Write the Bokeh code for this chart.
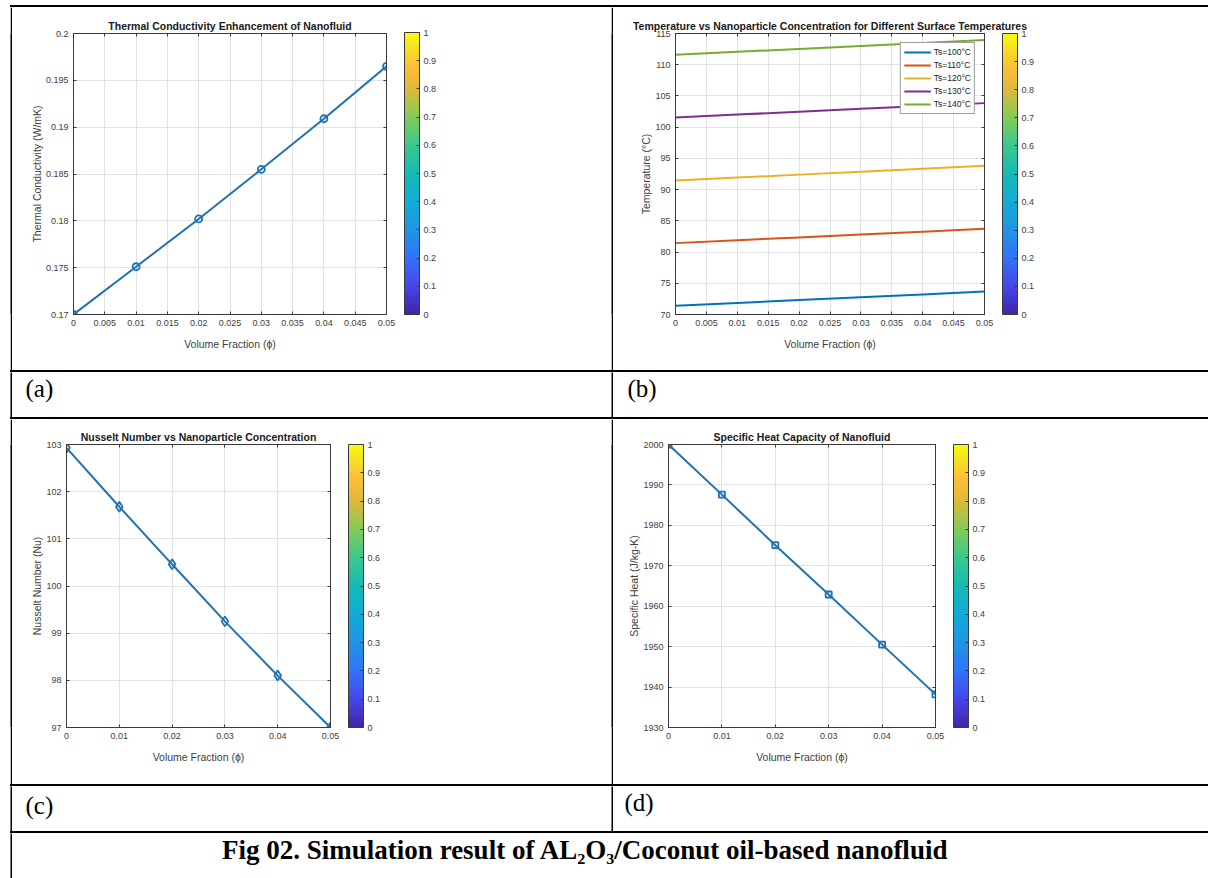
import numpy as np
from bokeh.plotting import figure
from bokeh.layouts import row, column
from bokeh.models import (Range1d, FixedTicker, CustomJSTickFormatter, LinearAxis,
                          ColorBar, LinearColorMapper, Label, Spacer)
from bokeh.embed import file_html
from bokeh.resources import INLINE
from bokeh.core.validation import silence
from bokeh.core.validation.warnings import MISSING_RENDERERS

silence(MISSING_RENDERERS, True)

# ---------------- data ----------------
phi = [0.00, 0.01, 0.02, 0.03, 0.04, 0.05]
k_nf = [0.1700, 0.1751, 0.1802, 0.1855, 0.1909, 0.1965]

ts_labels = ["Ts=100°C", "Ts=110°C", "Ts=120°C", "Ts=130°C", "Ts=140°C"]
T_100 = [71.39, 71.85, 72.31, 72.76, 73.22, 73.68]
T_110 = [81.43, 81.89, 82.35, 82.80, 83.26, 83.72]
T_120 = [91.46, 91.93, 92.40, 92.87, 93.34, 93.81]
T_130 = [101.55, 102.01, 102.47, 102.93, 103.39, 103.85]
T_140 = [111.59, 112.06, 112.53, 113.00, 113.47, 113.94]

Nu = [102.93, 101.68, 100.46, 99.25, 98.10, 97.00]
Cp = [2000.0, 1987.6, 1975.1, 1962.9, 1950.5, 1938.2]

x_ticks_fine = [0, 0.005, 0.01, 0.015, 0.02, 0.025, 0.03, 0.035, 0.04, 0.045, 0.05]
x_ticks_coarse = [0, 0.01, 0.02, 0.03, 0.04, 0.05]
k_ticks = [0.17, 0.175, 0.18, 0.185, 0.19, 0.195, 0.2]
T_ticks = [70, 75, 80, 85, 90, 95, 100, 105, 110, 115]
Nu_ticks = [97, 98, 99, 100, 101, 102, 103]
Cp_ticks = [1930, 1940, 1950, 1960, 1970, 1980, 1990, 2000]
cb_ticks = [0, 0.1, 0.2, 0.3, 0.4, 0.5, 0.6, 0.7, 0.8, 0.9, 1.0]

titles = ["Thermal Conductivity Enhancement of Nanofluid",
          "Temperature vs Nanoparticle Concentration for Different Surface Temperatures",
          "Nusselt Number vs Nanoparticle Concentration",
          "Specific Heat Capacity of Nanofluid"]
xlabel = "Volume Fraction (ϕ)"
ylabels = ["Thermal Conductivity (W/mK)", "Temperature (°C)",
           "Nusselt Number (Nu)", "Specific Heat (J/kg-K)"]
panel_labels = ["(a)", "(b)", "(c)", "(d)"]
caption = "Fig 02. Simulation result of AL₂O₃/Coconut oil-based nanofluid"

# ---------------- styles ----------------
BLUE = "#1f72b5"
LINE_COLORS = ["#0072BD", "#D95319", "#EDB120", "#7E2F8E", "#77AC30"]
AX = "#3a3a3a"
TXT = "#404040"
FONT = "Liberation Sans"
SERIF = "Liberation Serif"

parula_anchors = [(0.00, (62, 38, 168)), (0.10, (70, 70, 235)), (0.20, (50, 115, 250)),
                  (0.30, (32, 149, 229)), (0.40, (18, 172, 214)), (0.50, (20, 186, 180)),
                  (0.60, (59, 200, 141)), (0.70, (129, 204, 89)), (0.80, (222, 185, 60)),
                  (0.88, (252, 190, 55)), (0.95, (245, 225, 35)), (1.00, (249, 251, 14))]


def build_palette(anchors, n=256):
    pos = np.array([a[0] for a in anchors])
    cols = np.array([a[1] for a in anchors], float)
    t = np.linspace(0, 1, n)
    out = []
    for ti in t:
        r, g, b = (int(round(np.interp(ti, pos, cols[:, i]))) for i in range(3))
        out.append("#%02x%02x%02x" % (r, g, b))
    return out


PARULA = build_palette(parula_anchors)
FMT = CustomJSTickFormatter(code="return String(parseFloat(tick.toFixed(6)));")
BLANK = CustomJSTickFormatter(code="return '';")


def style_axis(ax, tk, label=None, show=True, label_standoff=0):
    ax.ticker = tk
    ax.formatter = FMT if show else BLANK
    ax.major_tick_in = 3
    ax.major_tick_out = 0
    ax.minor_tick_line_color = None
    ax.axis_line_color = AX
    ax.major_tick_line_color = AX
    ax.major_label_text_font = FONT
    ax.major_label_text_color = TXT
    if show:
        ax.major_label_text_font_size = "9px"
        ax.major_label_standoff = 5
    else:
        ax.major_label_text_font_size = "0px"
        ax.major_label_standoff = 0
    if label:
        ax.axis_label = label
        ax.axis_label_text_font = FONT
        ax.axis_label_text_font_size = "10.5px"
        ax.axis_label_text_font_style = "normal"
        ax.axis_label_text_color = TXT
        ax.axis_label_standoff = label_standoff


def chart(w, h, left, top, fw, fh, xr, yr, xt, yt, title, ylabel):
    p = figure(width=w, height=h, x_range=Range1d(*xr), y_range=Range1d(*yr),
               toolbar_location=None, output_backend="svg",
               min_border_left=left, min_border_right=w - left - fw,
               min_border_top=top, min_border_bottom=h - top - fh)
    p.outline_line_color = AX
    p.outline_line_width = 1
    xtk = FixedTicker(ticks=xt)
    ytk = FixedTicker(ticks=yt)
    style_axis(p.xaxis[0], xtk, xlabel, label_standoff=9)
    style_axis(p.yaxis[0], ytk, ylabel, label_standoff=0)
    p.xgrid.ticker = xtk
    p.ygrid.ticker = ytk
    p.grid.grid_line_color = "#e2e2e2"
    p.grid.grid_line_width = 1
    ta = LinearAxis()
    style_axis(ta, xtk, show=False)
    p.add_layout(ta, "above")
    ra = LinearAxis()
    style_axis(ra, ytk, show=False)
    p.add_layout(ra, "right")
    p.title.text = title
    p.title.align = "center"
    p.title.text_font = FONT
    p.title.text_font_size = "10.5px"
    p.title.text_font_style = "bold"
    p.title.text_color = "#1a1a1a"
    p.title.standoff = 3
    mapper = LinearColorMapper(palette=PARULA, low=0, high=1)
    cb = ColorBar(color_mapper=mapper, ticker=FixedTicker(ticks=cb_ticks), formatter=FMT,
                  width=15, height=fh, location=(fw + 18, 0), orientation="vertical",
                  padding=0, margin=0, bar_line_color=AX, bar_line_width=1,
                  major_tick_line_color=AX, major_tick_in=3, major_tick_out=0,
                  minor_tick_line_color=None,
                  major_label_text_font=FONT, major_label_text_font_size="9px",
                  major_label_text_color=TXT, label_standoff=4,
                  background_fill_alpha=0, border_line_color=None)
    p.add_layout(cb)
    return p


def vblock(w, h):
    p = figure(width=w, height=h, toolbar_location=None, output_backend="svg", title=None,
               min_border=0, x_axis_type=None, y_axis_type=None)
    p.background_fill_color = "black"
    p.border_fill_color = "black"
    p.outline_line_color = None
    return p


def hblock(w, h):
    return Spacer(width=w, height=h, styles={"background-color": "black"})


def text_cell(w, h, txt, x, y, size, bold=False, align="left", baseline="middle"):
    p = figure(width=w, height=h, x_range=Range1d(0, w), y_range=Range1d(h, 0),
               toolbar_location=None, output_backend="svg", title=None,
               min_border=0, x_axis_type=None, y_axis_type=None)
    p.outline_line_color = None
    p.add_layout(Label(x=x, y=y, text=txt, text_font=SERIF, text_font_size=size,
                       text_font_style="bold" if bold else "normal",
                       text_color="black", text_align=align, text_baseline=baseline))
    return p


# ---------------- panels ----------------
pa = chart(599, 363, 61, 25, 313, 282, (0, 0.05), (0.17, 0.2),
           x_ticks_fine, k_ticks, titles[0], ylabels[0])
pa.line(phi, k_nf, line_color=BLUE, line_width=2)
pa.scatter(phi, k_nf, marker="circle", size=7, line_color=BLUE, fill_color=None, line_width=1.8)

pb = chart(595, 363, 62, 26, 309, 281, (0, 0.05), (70, 115),
           x_ticks_fine, T_ticks, titles[1], ylabels[1])
for series, lab, col in zip([T_100, T_110, T_120, T_130, T_140], ts_labels, LINE_COLORS):
    pb.line(phi, series, line_color=col, line_width=2, legend_label=lab)
lg = pb.legend[0]
lg.location = "top_right"
lg.margin = 9
lg.padding = 3
lg.spacing = 1
lg.glyph_width = 27
lg.glyph_height = 12
lg.label_height = 12
lg.label_standoff = 3
lg.label_text_font = FONT
lg.label_text_font_size = "8.5px"
lg.label_text_color = "#222222"
lg.border_line_color = AX
lg.border_line_width = 1
lg.background_fill_alpha = 1

pc = chart(599, 365, 54, 25, 264, 283, (0, 0.05), (97, 103),
           x_ticks_coarse, Nu_ticks, titles[2], ylabels[2])
pc.line(phi, Nu, line_color=BLUE, line_width=2)
pc.scatter(phi, Nu, marker="diamond", size=10, line_color=BLUE, fill_color=None, line_width=1.8)

pd_ = chart(595, 365, 55, 25, 267, 283, (0, 0.05), (1930, 2000),
            x_ticks_coarse, Cp_ticks, titles[3], ylabels[3])
pd_.line(phi, Cp, line_color=BLUE, line_width=2)
pd_.scatter(phi, Cp, marker="square", size=6, line_color=BLUE, fill_color=None, line_width=1.8)

# ---------------- table ----------------
W = 1198
la = text_cell(599, 45, panel_labels[0], 13, 16, "25px")
lb = text_cell(595, 45, panel_labels[1], 14, 16, "25px")
lc = text_cell(599, 45, panel_labels[2], 13, 19, "25px")
ld = text_cell(595, 45, panel_labels[3], 11, 16, "25px")
cap = text_cell(1196, 45, caption, 573, 16, "27px", bold=True, align="center",
                baseline="middle")

table = column(
    Spacer(width=W, height=5),
    hblock(W, 2),
    row(vblock(2, 363), pa, vblock(2, 363), pb),
    hblock(W, 2),
    row(vblock(2, 45), la, vblock(2, 45), lb),
    hblock(W, 2),
    row(vblock(2, 365), pc, vblock(2, 365), pd_),
    hblock(W, 2),
    row(vblock(2, 45), lc, vblock(2, 45), ld),
    hblock(W, 2),
    row(vblock(2, 45), cap),
)
layout = row(Spacer(width=10, height=878), table)

open("out.html", "w").write(file_html(layout, INLINE))
